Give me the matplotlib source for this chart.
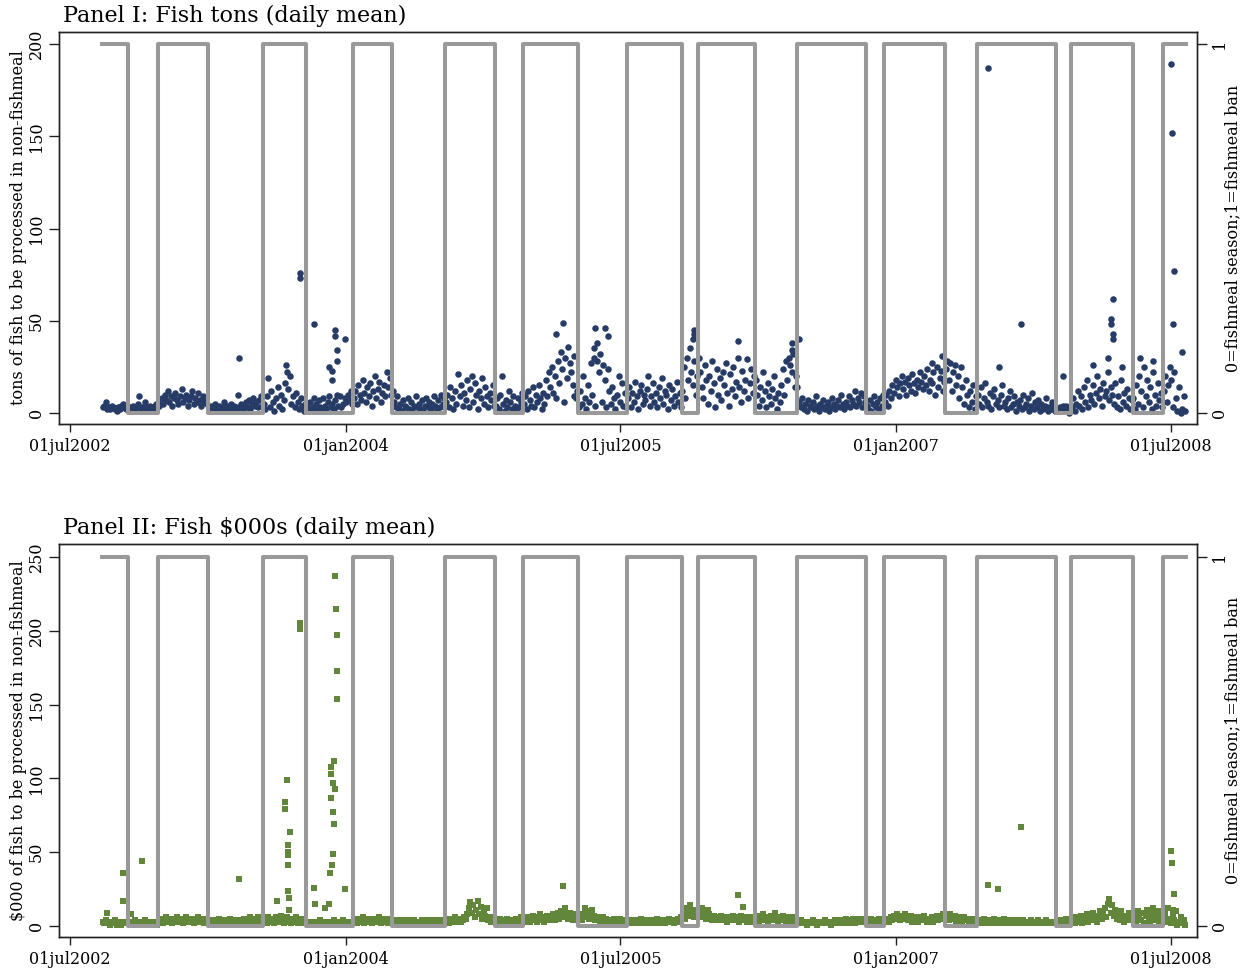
import numpy as np
import matplotlib
matplotlib.use('Agg')
import matplotlib.pyplot as plt
import matplotlib.dates as mdates

plt.rcParams['font.family'] = 'DejaVu Serif'

# dates where the fishmeal regime switches (first period is a ban, last date = end of data)
switch_dates = ['2002-09-03', '2002-10-24', '2002-12-23', '2003-04-02', '2003-07-20',
                '2003-10-14', '2004-01-15', '2004-04-02', '2004-07-17', '2004-10-24',
                '2004-12-19', '2005-04-07', '2005-07-14', '2005-10-31', '2005-12-02',
                '2006-03-26', '2006-06-17', '2006-11-02', '2006-12-08', '2007-04-08',
                '2007-06-11', '2007-11-15', '2007-12-15', '2008-04-16', '2008-06-15',
                '2008-07-31']
ban_flag = [1, 0, 1, 0, 1, 0, 1, 0, 1, 0, 1, 0, 1, 0, 1, 0, 1, 0, 1, 0, 1, 0, 1, 0, 1]

# panel I: daily mean tons, one string per regime period (values ~3 days apart)
tons_base = [
    "3 4 6 2 3 2 4 3 2 1 3 2 4 5 3 2 3",
    "2 3 1 4 2 3 5 9 2 3 1 6 3 2 4 1 3 2 5 3",
    "4 6 8 5 10 7 12 6 9 4 8 11 7 5 9 13 6 8 10 4 7 9 12 5 8 6 11 7 4 9 6 8 5",
    "3 1 4 2 5 3 2 4 1 3 6 2 4 3 1 5 2 4 3 2 10 3 5 2 4 6 3 7 2 5 8 4 6 3 7 9 4",
    "5 2 9 19 3 12 6 1 8 14 4 10 2 7 16 22 13 20 5 9 3 11 6 2 8 4 1 5",
    "4 2 6 1 3 8 5 2 7 3 1 8 4 2 6 9 3 5 2 7 10 4 9 3 5 8 6 10 7 12 5",
    "8 12 5 15 10 7 18 11 6 14 9 16 4 12 20 8 13 17 6 11 15 9 22 14 19 10",
    "12 6 3 9 2 5 1 7 4 3 8 2 6 1 4 9 3 5 2 7 1 4 8 3 6 2 5 9 4 1 7 3 10 5 8",
    "6 10 3 14 8 2 12 5 21 9 15 4 11 7 18 3 13 20 6 16 10 2 12 8 19 5 14 9 3 11 7 15 4",
    "4 8 2 10 20 5 1 7 3 12 6 2 9 4 1 8 3 6 11",
    "5 9 2 12 7 4 14 3 10 6 15 8 2 11 5 18 9 22 14 25 11 20 8 28 16 33 24 6 30 19 36 27 22 15 9 8 12",
    "3 12 5 20 8 2 15 6 27 10 30 4 28 22 32 6 26 18 3 24 12 5 14 8 2 10 20 6 16 4 11 3",
    "8 14 3 11 6 17 9 2 12 15 5 10 7 13 20 4 9 16 6 11 3 14 8 19 5 12 10 2 15 7 13 4 9 17 6 11 3",
    "12 25 8 30 18 35 22 15 28 10 20",
    "30 22 14 8 26 18 5 20 12 28 16 3 24 10 19 7 22 15 27 11 4 21 13 25 9 17 30 14 6 23 12 18 29 8 16 24 11 20",
    "18 10 4 14 7 22 12 3 16 9 5 13 20 8 2 11 6 15 24 10 28 18 30 26 22 32 14 20",
    "14 6 3 8 2 5 1 7 4 3 6 2 9 4 1 5 3 7 2 4 6 1 3 8 5 2 4 7 3 10 5 2 6 4 9 3 7 5 12 4 8 6 11 3 9 6",
    "4 2 7 1 5 9 3 6 2 8 4 10",
    "6 10 4 12 8 15 11 18 14 9 16 20 13 17 10 19 15 12 21 16 11 18 14 22 17 13 20 15 24 12 18 16 22 10 25 14 19 23 12 17",
    "24 28 18 27 12 22 26 15 20 8 25 14 5 18 10 3 12 6 15 2 9",
    "10 5 14 3 8 16 6 4 11 2 9 13 5 7 3 10 15 4 6 2 8 12 3 5 9 1 6 4 7 2 10 3 5 8 1 4 11 2 6 3 7 1 5 2 4 8 1 3 2 6 3 1",
    "2 1 3 2 4 1 4 2 0 3",
    "3 8 1 5 12 4 9 2 14 6 18 3 10 7 15 5 11 20 8 13 4 16 9 12 22 7 14 10 5 16 3 9 2 18 6 11 4 13 8 2 7",
    "8 2 15 5 20 12 3 25 9 18 6 14 2 22 10 4 16 7 11 3",
    "12 20 6 15 25 18 3 22 8 1 14 0 2 9 1",
]
tons_peak_dates = ['2003-06-02', '2003-09-04', '2003-10-02', '2003-10-02', '2003-10-30',
                   '2003-11-29', '2003-12-05', '2003-12-05', '2003-12-11', '2003-12-11',
                   '2003-12-15', '2003-12-15', '2003-12-31', '2005-02-23', '2005-03-09',
                   '2005-03-30', '2005-05-09', '2005-05-11', '2005-05-15', '2005-05-31',
                   '2005-06-06', '2005-11-22', '2005-11-24', '2005-11-24', '2006-02-20',
                   '2006-06-07', '2006-06-07', '2006-06-21', '2007-03-13', '2007-04-02',
                   '2007-07-03', '2007-07-25', '2007-09-06', '2007-11-29', '2008-01-28',
                   '2008-02-27', '2008-03-03', '2008-03-03', '2008-03-07', '2008-03-07',
                   '2008-03-07', '2008-03-25', '2008-04-30', '2008-05-26', '2008-07-01',
                   '2008-07-03', '2008-07-05', '2008-07-07', '2008-07-23']
tons_peak = [30, 26, 76, 73, 48, 25, 23, 18, 45, 42, 34, 28, 40, 43, 49, 31, 35, 46, 38, 46,
             42, 40, 45, 43, 39, 34, 38, 40, 27, 31, 187, 25, 48, 20, 26, 30, 51, 48, 62, 43,
             40, 25, 30, 28, 189, 152, 48, 77, 33]

# panel II: daily mean value in $000
usd_base = [
    "3 2 4 2 2 1 3 2 4 1 2 3 1 2 3 2 3",
    "2 3 1 2 4 1 3 2 1 3 2 4 1 2 3 1 2 3 2 1",
    "3 4 5 2 4 6 3 5 4 2 5 3 6 4 3 5 2 4 6 3 5 4 3 2 5 4 6 3 4 5 2 4 3",
    "2 3 1 4 2 3 1 5 2 3 4 1 2 3 5 2 1 4 3 2 1 4 2 3 5 1 2 4 6 3 5 2 4 6 3 5 2",
    "3 5 2 6 4 3 5 2 6 4 3 7 5 2 4 6 3 5 2 4 3 6 2 4 5 3 2 4",
    "2 1 3 2 1 2 3 1 2 4 1 3 2 1 2 3 1 2 4 2 3 1 2 3 4 2 3 1 2 3 2",
    "3 4 2 5 3 4 6 2 4 3 5 4 2 3 5 4 3 6 2 4 5 3 4 2 5 3",
    "3 2 4 3 2 3 4 2 3 2 4 3 2 3 4 2 3 2 3 4 2 3 2 4 3 2 3 4 2 3 2 4 3 2 3",
    "3 4 2 5 3 4 6 3 4 5 3 4 6 5 8 12 16 9 14 6 11 17 8 13 5 10 7 12 4 6 3 5 4",
    "3 4 2 5 3 4 2 3 5 4 2 3 4 2 5 3 4 6 3",
    "3 5 4 6 3 5 7 4 6 3 5 8 4 6 3 5 7 4 6 5 8 4 7 9 5 10 6 8 12 7 5 9 6 4 8 5 6",
    "5 7 4 8 12 6 10 5 9 11 7 4 6 5 3 4 6 3 5 4 2 4 3 5 2 4 3 5 4 3 4 3",
    "3 4 2 3 4 3 2 4 3 5 2 3 4 3 2 4 3 2 4 3 5 2 3 4 3 2 4 3 5 3 4 2 3 4 5 3 6",
    "6 9 5 12 8 14 7 10 6 11 8",
    "10 7 12 6 9 5 11 8 6 4 7 5 6 4 5 7 4 6 5 3 6 4 5 7 4 6 5 3 7 5 4 6 3 5 4 6 3 5",
    "4 6 3 7 5 8 4 6 3 5 7 4 6 9 5 3 6 4 7 5 3 6 4 5 3 6 4 5",
    "3 2 4 3 2 3 1 2 3 2 4 2 3 1 2 3 2 3 4 2 3 2 1 3 2 4 3 2 3 4 2 3 5 3 2 4 3 5 2 4 3 5 4 3 5 4",
    "3 4 2 5 3 4 2 3 5 4 2 3",
    "3 4 5 3 6 4 7 5 8 6 4 7 5 8 6 4 5 7 3 6 4 5 3 6 4 5 7 4 3 5 4 6 3 5 7 4 6 5 8 6",
    "5 7 4 8 6 5 7 3 6 4 5 3 6 4 5 3 4 2 5 3 4",
    "3 4 2 3 5 2 4 3 2 4 3 5 2 3 4 2 3 5 2 4 3 2 4 3 2 3 4 2 3 2 4 3 2 3 2 4 3 2 3 2 4 2 3 2 3 4 2 3 2 3 2 3",
    "2 3 1 4 2 3 5 2 3 4",
    "3 5 2 6 4 3 7 2 5 4 8 3 6 5 9 4 7 3 6 10 5 8 12 6 15 18 9 14 7 11 5 8 4 10 6 3 7 5 9 4 6",
    "5 8 3 10 6 4 9 2 7 11 5 3 8 12 4 6 10 3 7 5",
    "6 9 3 12 5 2 8 4 10 1 3 6 2 4 1",
]
usd_peak_dates = ['2002-09-13', '2002-10-15', '2002-10-15', '2002-10-30', '2002-11-21',
                  '2003-06-02', '2003-08-17', '2003-09-02', '2003-09-02', '2003-09-06',
                  '2003-09-08', '2003-09-08', '2003-09-08', '2003-09-08', '2003-09-08',
                  '2003-09-10', '2003-09-10', '2003-09-12', '2003-10-02', '2003-10-02',
                  '2003-10-30', '2003-11-01', '2003-11-21', '2003-11-29', '2003-12-01',
                  '2003-12-03', '2003-12-03', '2003-12-03', '2003-12-05', '2003-12-07',
                  '2003-12-07', '2003-12-07', '2003-12-09', '2003-12-09', '2003-12-11',
                  '2003-12-11', '2003-12-13', '2003-12-15', '2003-12-15', '2003-12-15',
                  '2003-12-31', '2005-03-09', '2006-02-20', '2006-03-02', '2007-07-03',
                  '2007-07-23', '2007-09-06', '2008-07-01', '2008-07-03', '2008-07-05',
                  '2008-07-07']
usd_peak = [9, 36, 17, 8, 44, 32, 17, 84, 79, 99, 55, 50, 48, 41, 24, 19, 11, 64, 205, 201,
            26, 15, 12, 15, 36, 108, 103, 87, 41, 97, 77, 49, 112, 69, 237, 93, 215, 197, 173,
            154, 25, 27, 21, 13, 28, 25, 67, 51, 43, 11, 22]

tick_dates = ['2002-07-01', '2004-01-01', '2005-07-01', '2007-01-01', '2008-07-01']
tick_labels = ['01jul2002', '01jan2004', '01jul2005', '01jan2007', '01jul2008']


def to_num(d):
    return mdates.date2num(np.array(d, dtype='datetime64[D]'))


def spread(base):
    # place each period's values evenly between its switch dates
    edges = to_num(switch_dates)
    xs, ys = [], []
    for i, s in enumerate(base):
        v = [float(t) for t in s.split()]
        step = (edges[i + 1] - edges[i]) / len(v)
        xs.extend(edges[i] + step * (np.arange(len(v)) + 0.5))
        ys.extend(v)
    return np.array(xs), np.array(ys)


gray = '#999999'
dark = '#222222'
W, H = 1250, 972
fig = plt.figure(figsize=(W / 100, H / 100), dpi=100)

panels = [
    dict(base=tons_base, pk_d=tons_peak_dates, pk=tons_peak, top=32, bot=424, zero=413, ymax=200,
         yticks=[0, 50, 100, 150, 200], color='#263b66', marker='o', s=22,
         title='Panel I: Fish tons (daily mean)',
         ylabel='tons of fish to be processed in non-fishmeal'),
    dict(base=usd_base, pk_d=usd_peak_dates, pk=usd_peak, top=544, bot=937, zero=926, ymax=250,
         yticks=[0, 50, 100, 150, 200, 250], color='#62873a', marker='s', s=17,
         title='Panel II: Fish $000s (daily mean)',
         ylabel='\\$000 of fish to be processed in non-fishmeal'),
]

x0 = to_num('2002-06-09')
x1 = to_num('2008-08-22')
switch_num = to_num(switch_dates)
ban_line = ban_flag + [ban_flag[-1]]

for p in panels:
    left, right = 59, 1197
    ax = fig.add_axes([left / W, 1 - p['bot'] / H, (right - left) / W, (p['bot'] - p['top']) / H])
    # pixel mapping: 0 at 'zero', ymax 369 px above it
    ppu = 369.0 / p['ymax']
    ylo = -(p['bot'] - p['zero']) / ppu
    yhi = (p['zero'] - p['top']) / ppu

    bx, by = spread(p['base'])
    ax.scatter(bx, by, s=p['s'], marker=p['marker'], color=p['color'], linewidths=0, zorder=2)
    ax.scatter(to_num(p['pk_d']), p['pk'], s=p['s'], marker=p['marker'], color=p['color'],
               linewidths=0, zorder=2)
    ax.set_xlim(x0, x1)
    ax.set_ylim(ylo, yhi)
    ax.set_yticks(p['yticks'])
    ax.set_xticks(to_num(tick_dates))
    ax.set_xticklabels(tick_labels)
    ax.tick_params(axis='y', labelrotation=90, length=7, width=1, color=dark, pad=3, labelsize=11.5)
    ax.tick_params(axis='x', length=6, width=1, color=dark, pad=4, labelsize=11.5)
    for lab in ax.get_yticklabels():
        lab.set_va('center')
    ax.set_ylabel(p['ylabel'], fontsize=11.5)
    ax.yaxis.set_label_coords(-0.028, 0.5)

    ax2 = ax.twinx()
    ax2.plot(switch_num, ban_line, drawstyle='steps-post', color=gray, lw=2.9, zorder=3)
    ax2.set_ylim(ylo / p['ymax'], yhi / p['ymax'])
    ax2.set_yticks([0, 1])
    ax2.tick_params(axis='y', labelrotation=90, length=7, width=1, color=dark, pad=3, labelsize=11.5)
    for lab in ax2.get_yticklabels():
        lab.set_va('center')
    ax2.set_ylabel('0=fishmeal season;1=fishmeal ban', fontsize=11.5)
    ax2.yaxis.set_label_coords(1.024, 0.5)

    for a in (ax, ax2):
        for sp in a.spines.values():
            sp.set_color(dark)
            sp.set_linewidth(1.0)

    fig.text(63 / W, 1 - (p['top'] - 16) / H, p['title'], fontsize=16, va='center', ha='left')

fig.savefig('out.png', dpi=100)
